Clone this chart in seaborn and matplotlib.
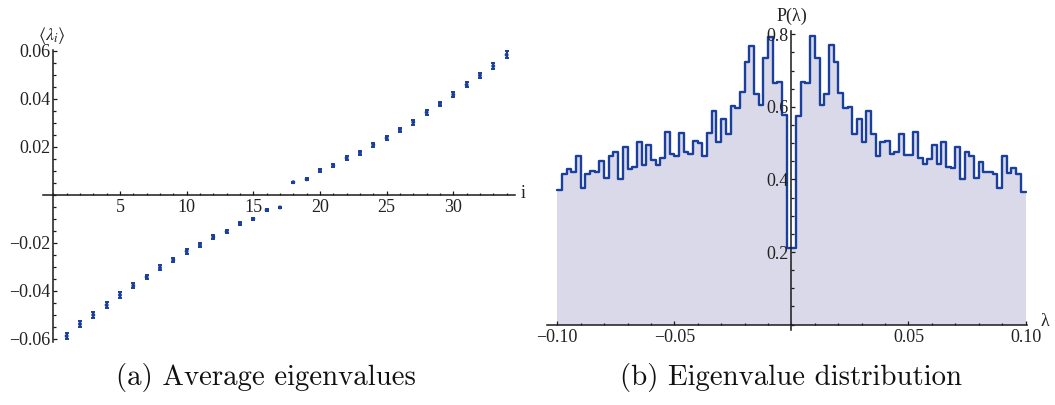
import numpy as np
import pandas as pd
import matplotlib
matplotlib.use("Agg")
import matplotlib.pyplot as plt
import seaborn as sns
from matplotlib.ticker import MultipleLocator

# ---------------- data: (a) average eigenvalues ----------------
idx = list(range(1, 35))
avg_eig = [-0.0589, -0.0539, -0.0501, -0.0460, -0.0418, -0.0379, -0.0343, -0.0304,
           -0.0272, -0.0236, -0.0210, -0.0176, -0.0154, -0.0121, -0.0101, -0.0064,
           -0.0053, 0.0052, 0.0064, 0.0102, 0.0121, 0.0153, 0.0175, 0.0208,
           0.0236, 0.0270, 0.0302, 0.0343, 0.0378, 0.0417, 0.0458, 0.0497,
           0.0536, 0.0583]
avg_err = [0.0013, 0.0012, 0.0012, 0.0011, 0.0011, 0.0010, 0.0010, 0.0010,
           0.0009, 0.0009, 0.0008, 0.0008, 0.0007, 0.0007, 0.0006, 0.0004,
           0.0003, 0.0003, 0.0004, 0.0006, 0.0007, 0.0007, 0.0008, 0.0008,
           0.0009, 0.0009, 0.0010, 0.0010, 0.0010, 0.0011, 0.0011, 0.0012,
           0.0012, 0.0014]
a_xticks = [5, 10, 15, 20, 25, 30]
a_yticks = [-0.06, -0.04, -0.02, 0.02, 0.04, 0.06]
a_ylabels = ["\u22120.06", "\u22120.04", "\u22120.02", "0.02", "0.04", "0.06"]

# ---------------- data: (b) eigenvalue distribution ----------------
hist_range = (-0.1, 0.1)
n_bins = 100
dist_left = [0.371, 0.415, 0.429, 0.420, 0.465, 0.375, 0.415, 0.424, 0.420, 0.451,
             0.404, 0.465, 0.475, 0.400, 0.489, 0.429, 0.434, 0.504, 0.440, 0.496,
             0.454, 0.441, 0.460, 0.530, 0.470, 0.465, 0.527, 0.475, 0.470, 0.506,
             0.501, 0.464, 0.527, 0.589, 0.504, 0.566, 0.524, 0.602, 0.596, 0.640,
             0.724, 0.768, 0.634, 0.605, 0.734, 0.793, 0.666, 0.669, 0.577]
dist_center = [0.210, 0.210]
dist_right = [0.575, 0.669, 0.665, 0.795, 0.735, 0.604, 0.634, 0.770, 0.724, 0.639,
              0.596, 0.600, 0.524, 0.566, 0.504, 0.589, 0.524, 0.465, 0.502, 0.506,
              0.470, 0.476, 0.526, 0.467, 0.467, 0.530, 0.460, 0.442, 0.455, 0.495,
              0.442, 0.504, 0.435, 0.431, 0.490, 0.400, 0.475, 0.464, 0.403, 0.449,
              0.420, 0.421, 0.415, 0.375, 0.465, 0.418, 0.431, 0.415, 0.364]
b_xticks = [-0.10, -0.05, 0.05, 0.10]
b_xlabels = ["\u22120.10", "\u22120.05", "0.05", "0.10"]
b_yticks = [0.2, 0.4, 0.6, 0.8]
b_ylabels = ["0.2", "0.4", "0.6", "0.8"]

captions = ["(a) Average eigenvalues", "(b) Eigenvalue distribution"]

# ---------------- style ----------------
sns.set_style("ticks")
plt.rcParams["font.family"] = ["Liberation Serif", "DejaVu Serif"]
plt.rcParams["mathtext.fontset"] = "stix"

BLUE = "#1a3f9c"
FILL = "#d9d9ea"
AXC = "#1a1a1a"
TXT = "#222222"

W, H = 1055, 405
fig = plt.figure(figsize=(W / 100, H / 100), dpi=100)
ax1 = fig.add_axes([43.3 / W, 1 - 342.3 / H, 471.3 / W, (342.3 - 49.5) / H])
ax2 = fig.add_axes([547 / W, 1 - 329.5 / H, 479.7 / W, (329.5 - 30.6) / H])

# ---- (a) ----
df1 = pd.DataFrame({"i": idx, "v": avg_eig, "e": avg_err})
ax1.errorbar(df1["i"], df1["v"], yerr=df1["e"], fmt="none", ecolor=BLUE,
             elinewidth=1.5, capsize=1.7, capthick=1.4, zorder=3)
sns.scatterplot(data=df1, x="i", y="v", ax=ax1, color=BLUE, s=8,
                edgecolor="none", zorder=4, legend=False)
ax1.set_xlim(-0.75, 34.6)
ax1.set_ylim(-0.0615, 0.0605)
ax1.set_xticks(a_xticks)
ax1.set_xticklabels([str(t) for t in a_xticks])
ax1.set_yticks(a_yticks)
ax1.set_yticklabels(a_ylabels)
ax1.xaxis.set_minor_locator(MultipleLocator(1))
ax1.yaxis.set_minor_locator(MultipleLocator(0.005))
ax1.set_xlabel("")
ax1.set_ylabel("")

# ---- (b) ----
heights = dist_left + dist_center + dist_right
edges = np.linspace(hist_range[0], hist_range[1], n_bins + 1)
centers = (edges[:-1] + edges[1:]) / 2
df2 = pd.DataFrame({"lam": centers, "p": heights})
sns.histplot(data=df2, x="lam", weights="p", bins=n_bins, binrange=hist_range,
             element="step", fill=True, color=FILL, alpha=1, linewidth=0,
             ax=ax2, legend=False, zorder=1)
sns.histplot(data=df2, x="lam", weights="p", bins=n_bins, binrange=hist_range,
             element="step", fill=False, color=BLUE, linewidth=1.7, ax=ax2,
             legend=False, zorder=2)
ax2.set_xlim(-0.1044, 0.1005)
ax2.set_ylim(-0.0135, 0.81)
ax2.set_xticks(b_xticks)
ax2.set_xticklabels(b_xlabels)
ax2.set_yticks(b_yticks)
ax2.set_yticklabels(b_ylabels)
ax2.xaxis.set_minor_locator(MultipleLocator(0.01))
ax2.yaxis.set_minor_locator(MultipleLocator(0.05))
ax2.set_xlabel("")
ax2.set_ylabel("")

for ax in (ax1, ax2):
    ax.set_axisbelow(False)
    ax.spines["top"].set_visible(False)
    ax.spines["right"].set_visible(False)
    ax.spines["left"].set_position(("data", 0))
    ax.spines["bottom"].set_position(("data", 0))
    for s in ("left", "bottom"):
        ax.spines[s].set_linewidth(1.1)
        ax.spines[s].set_color(AXC)
        ax.spines[s].set_zorder(5)
    ax.tick_params(which="both", direction="in", color=AXC, labelcolor=TXT,
                   labelsize=13, width=0.9)
    ax.tick_params(which="major", length=3.2)
    ax.tick_params(which="minor", length=1.8)
    ax.tick_params(axis="y", pad=2)
    ax.tick_params(axis="x", pad=3)
    ax.patch.set_alpha(0)

# axis labels
fig.text(52 / W, 1 - 36 / H, r"$\langle\lambda_i\rangle$", ha="center", va="center",
         fontsize=13, color=TXT)
fig.text(523 / W, 1 - 193 / H, "i", ha="center", va="center", fontsize=13,
         color=TXT)
fig.text(792 / W, 1 - 16 / H, "P(\u03bb)", ha="center", va="center", fontsize=13,
         color=TXT)
fig.text(1045 / W, 1 - 322 / H, "\u03bb", ha="center", va="center", fontsize=13,
         color=TXT)

# captions
fig.text(266 / W, 1 - 377 / H, captions[0], ha="center", va="center",
         fontsize=20.8, family="cmr10", color="#111111")
fig.text(790.5 / W, 1 - 377 / H, captions[1], ha="center", va="center",
         fontsize=20.8, family="cmr10", color="#111111")

fig.savefig("out.png", dpi=100)
